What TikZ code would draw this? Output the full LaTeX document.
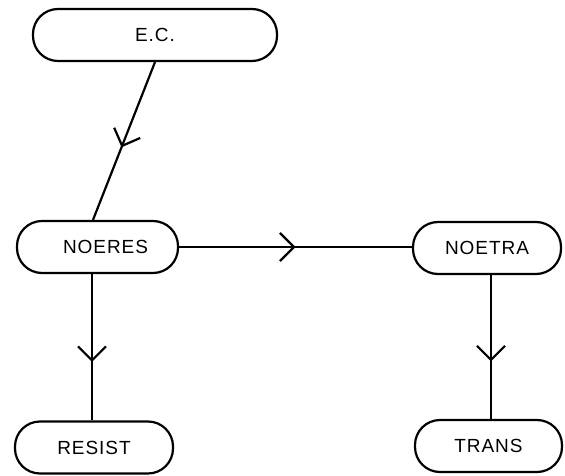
\documentclass[tikz,border=0pt]{standalone}
\usepackage{fontspec}
\setmainfont{Liberation Sans}[LetterSpace=5]
\usetikzlibrary{arrows.meta,decorations.markings}
\begin{document}
\begin{tikzpicture}[x=1pt,y=-1pt,line width=2.2pt,
  state/.style={draw,rounded corners=25pt,minimum height=52pt,inner sep=0pt,
    font=\fontsize{19}{19}\selectfont},
  flow/.style={postaction=decorate,decoration={markings,
    mark=at position #1 with {\arrow{Straight Barb[length=14pt,width=28pt,line width=2.2pt]}}}}]
\useasboundingbox (0,0) rectangle (565,476);

% states
\node[state,minimum width=244pt] (ec)     at (155,35)    {E.C.};
\node[state,minimum width=161pt] (noeres) at (97.5,247)  {\hspace*{16pt}NOERES};
\node[state,minimum width=148pt] (noetra) at (487,248)   {NOETRA};
\node[state,minimum width=158pt] (resist) at (94,447.5)  {RESIST};
\node[state,minimum width=147pt] (trans)  at (488.5,446) {TRANS};

% transitions
\draw[flow=0.54] (ec.south) -- ([xshift=-4.5pt]noeres.north);
\draw[flow=0.50] (noeres.east) -- (noeres.east -| noetra.west);
\draw[flow=0.60] ([xshift=-2pt]resist.north |- noeres.south) -- ([xshift=-2pt]resist.north);
\draw[flow=0.60] ([xshift=4pt]noetra.south) -- ([xshift=4pt]noetra.south |- trans.north);
\end{tikzpicture}
\end{document}
